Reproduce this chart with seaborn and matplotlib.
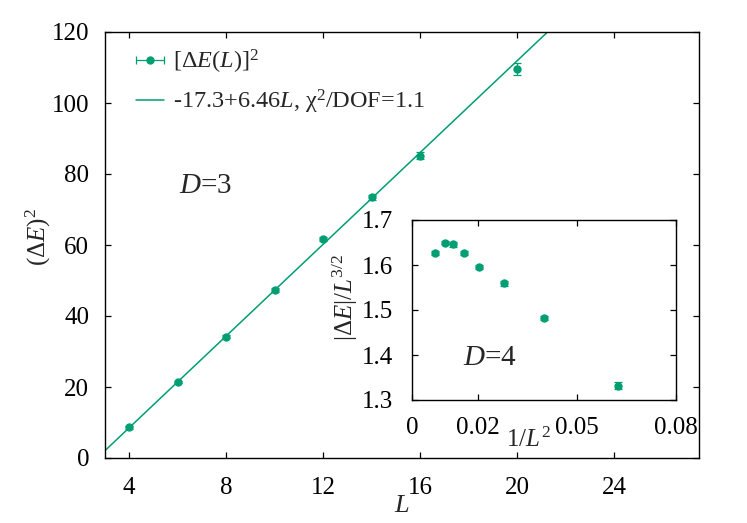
import numpy as np
import pandas as pd
import matplotlib
matplotlib.use("Agg")
import matplotlib.pyplot as plt
import seaborn as sns
from matplotlib.container import ErrorbarContainer
from matplotlib.legend_handler import HandlerErrorbar

# ---------------- data ----------------
L_main = [4, 6, 8, 10, 12, 14, 16, 20]
dE2 = [8.6, 21.3, 34.2, 47.3, 61.6, 73.4, 85.2, 109.6]
dE2_err = [0.3, 0.3, 0.4, 0.5, 0.6, 0.8, 1.1, 1.8]
fit_a, fit_b = -17.3, 6.46
main_xlim = [3, 27.5]
main_ylim = [0, 120]
main_xticks = [4, 8, 12, 16, 20, 24]
main_yticks = [0, 20, 40, 60, 80, 100, 120]

L_inset = [12, 10, 9, 8, 7, 6, 5, 4]
dE_scaled = [1.627, 1.650, 1.646, 1.627, 1.596, 1.559, 1.482, 1.332]
dE_scaled_err = [0.004, 0.004, 0.005, 0.005, 0.004, 0.006, 0.005, 0.008]
inset_xlim = [0, 0.08]
inset_ylim = [1.3, 1.7]
inset_xticks = [0, 0.02, 0.05, 0.08]
inset_xticklabels = ["0", "0.02", "0.05", "0.08"]
inset_yticks = [1.3, 1.4, 1.5, 1.6, 1.7]
inset_yticklabels = ["1.3", "1.4", "1.5", "1.6", "1.7"]

GREEN = "#009E73"

# ---------------- style ----------------
sns.set_theme(style="ticks")
plt.rcParams.update({
    "font.family": ["Liberation Serif", "DejaVu Serif"],
    "mathtext.fontset": "custom",
    "mathtext.rm": "Liberation Serif",
    "mathtext.it": "Liberation Serif:italic",
    "mathtext.bf": "Liberation Serif:bold",
    "font.size": 18,
    "axes.edgecolor": "black",
    "axes.linewidth": 1.0,
    "xtick.color": "black", "ytick.color": "black",
    "xtick.labelcolor": "black", "ytick.labelcolor": "black",
    "xtick.direction": "in", "ytick.direction": "in",
    "xtick.top": True, "ytick.right": True,
    "xtick.major.size": 4.5, "ytick.major.size": 4.5,
    "xtick.major.width": 0.9, "ytick.major.width": 0.9,
    "xtick.labelsize": 18, "ytick.labelsize": 18,
})

W, H = 747, 523
fig = plt.figure(figsize=(W / 100, H / 100), dpi=100)

def fig_rect(l, t, r, b):
    return [l / W, 1 - b / H, (r - l) / W, (b - t) / H]

# ---------------- main axes ----------------
ax = fig.add_axes(fig_rect(105, 32, 699, 458))
ax.set_xlim(main_xlim)
ax.set_ylim(main_ylim)

eb = ax.errorbar(L_main, dE2, yerr=dE2_err, fmt="o", color=GREEN, ms=5,
                 elinewidth=0.9, capsize=2.6, capthick=0.9, zorder=3)
x_fit = np.array(main_xlim, dtype=float)
sns.lineplot(x=x_fit, y=fit_a + fit_b * x_fit, ax=ax, color=GREEN, lw=1.1)
fit_line = ax.lines[-1]

ax.set_xticks(main_xticks)
ax.set_yticks(main_yticks)
ax.tick_params(axis="y", pad=11.5)
ax.tick_params(axis="x", pad=14)

ax.set_xlabel(r"$\mathit{L}$", fontsize=19)
ax.xaxis.set_label_coords((402 - 105) / 594, -(506 - 458) / 426)
ax.xaxis.label.set_verticalalignment("center")
ax.set_ylabel(r"$(\Delta\mathit{E})^2$", fontsize=18)
ax.yaxis.set_label_coords((38 - 105) / 594, (458 - 237) / 426)
ax.yaxis.label.set_verticalalignment("center")

ax.text((206 - 105) / 594, (458 - 186) / 426, r"$\mathit{D}$=3", fontsize=21,
        ha="center", va="center", transform=ax.transAxes)

leg_eb = ErrorbarContainer(eb.lines, has_xerr=True, has_yerr=False)
ax.legend([leg_eb, fit_line],
          [r"[$\Delta\mathit{E}$($\mathit{L}$)]$^2$",
           r"-17.3+6.46$\mathit{L}$, χ$^2$/DOF=1.1"],
          handler_map={leg_eb: HandlerErrorbar(xerr_size=0.575)},
          loc="upper left", bbox_to_anchor=(136 / W, 1 - 48 / H),
          bbox_transform=fig.transFigure, frameon=False, borderpad=0,
          borderaxespad=0, handlelength=1.15, handletextpad=0.37,
          labelspacing=0.5, fontsize=17.5)

# ---------------- inset ----------------
ins = fig.add_axes(fig_rect(412, 220, 676, 400))
ins.set_facecolor("none")
inv_L2 = [1.0 / (l * l) for l in L_inset]
ins.errorbar(inv_L2, dE_scaled, yerr=dE_scaled_err, fmt="o", color=GREEN, ms=5,
             elinewidth=0.9, capsize=2.6, capthick=0.9)
ins.set_xlim(inset_xlim)
ins.set_ylim(inset_ylim)
ins.set_xticks(inset_xticks)
ins.set_xticklabels(inset_xticklabels)
ins.set_yticks(inset_yticks)
ins.set_yticklabels(inset_yticklabels)
ins.tick_params(axis="y", pad=13.5)
ins.tick_params(axis="x", pad=12.5)

ins.set_xlabel(r"1/$\mathit{L}^2$", fontsize=18)
ins.xaxis.set_label_coords((528 - 412) / 264, -(447 - 400) / 180)
ins.xaxis.label.set_verticalalignment("baseline")
ins.set_ylabel(r"$|\Delta\mathit{E}|/\mathit{L}^{3/2}$", fontsize=18)
ins.yaxis.set_label_coords((345 - 412) / 264, (400 - 297) / 180)
ins.yaxis.label.set_verticalalignment("center")

ins.text((490 - 412) / 264, (400 - 358) / 180, r"$\mathit{D}$=4", fontsize=21,
         ha="center", va="center", transform=ins.transAxes)

fig.savefig("out.png", dpi=100)
